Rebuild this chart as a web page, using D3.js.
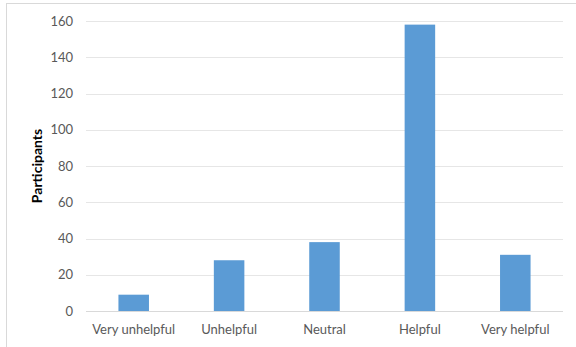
<!DOCTYPE html>
<html>
<head>
<meta charset="utf-8">
<script src="https://cdn.jsdelivr.net/npm/d3@7"></script>
<style>
  html, body { margin: 0; padding: 0; background: #fff; }
  svg { display: block; font-family: Lato, "Open Sans", sans-serif; }
</style>
</head>
<body>
<div class="chart"></div>
<script>
const categories = ["Very unhelpful", "Unhelpful", "Neutral", "Helpful", "Very helpful"];
const participants = [9, 28, 38, 158, 31];
const yTicks = [0, 20, 40, 60, 80, 100, 120, 140, 160];

const width = 576, height = 347;
const margin = {top: 21, right: 13, bottom: 36, left: 86};

let svg = d3.select(".chart").append("svg")
    .attr("width", width)
    .attr("height", height);

// Chart frame (right and bottom edges fall outside the picture)
svg.append("rect")
    .attr("x", 6.5).attr("y", 3.5)
    .attr("width", width + 10).attr("height", height + 10)
    .attr("fill", "none")
    .attr("stroke", "#d9d9d9");

const x = d3.scaleBand()
    .domain(categories)
    .range([margin.left, width - margin.right])
    .paddingInner(0.68)
    .paddingOuter(0.34);

const y = d3.scaleLinear()
    .domain([0, 160])
    .range([height - margin.bottom, margin.top]);

// Gridlines
svg.append("g")
    .selectAll("line")
    .data(yTicks.filter(d => d > 0))
    .enter().append("line")
    .attr("x1", margin.left)
    .attr("x2", width - margin.right)
    .attr("y1", d => Math.round(y(d)) + 0.5)
    .attr("y2", d => Math.round(y(d)) + 0.5)
    .attr("stroke", "#e6e6e6");

// Bars
svg.append("g")
    .selectAll("rect")
    .data(participants)
    .enter().append("rect")
    .attr("x", (d, i) => x(categories[i]))
    .attr("y", d => y(d))
    .attr("width", x.bandwidth())
    .attr("height", d => y(0) - y(d))
    .attr("fill", "#5b9bd5");

// Baseline
svg.append("line")
    .attr("x1", margin.left)
    .attr("x2", width - margin.right)
    .attr("y1", Math.round(y(0)) + 0.5)
    .attr("y2", Math.round(y(0)) + 0.5)
    .attr("stroke", "#d9d9d9");

// Y axis labels
svg.append("g")
    .selectAll("text")
    .data(yTicks)
    .enter().append("text")
    .attr("x", 73)
    .attr("y", d => y(d))
    .attr("dy", "0.35em")
    .attr("text-anchor", "end")
    .attr("font-size", 13)
    .attr("fill", "#595959")
    .text(d => d);

// X axis labels
svg.append("g")
    .selectAll("text")
    .data(categories)
    .enter().append("text")
    .attr("x", d => x(d) + x.bandwidth() / 2)
    .attr("y", y(0) + 18)
    .attr("dy", "0.35em")
    .attr("text-anchor", "middle")
    .attr("font-size", 13)
    .attr("fill", "#595959")
    .text(d => d);

// Y axis title
svg.append("text")
    .attr("transform", "translate(37," + ((margin.top + height - margin.bottom) / 2) + ") rotate(-90)")
    .attr("dy", "0.35em")
    .attr("text-anchor", "middle")
    .attr("font-size", 14)
    .attr("font-weight", "bold")
    .attr("fill", "#000")
    .text("Participants");
</script>
</body>
</html>
